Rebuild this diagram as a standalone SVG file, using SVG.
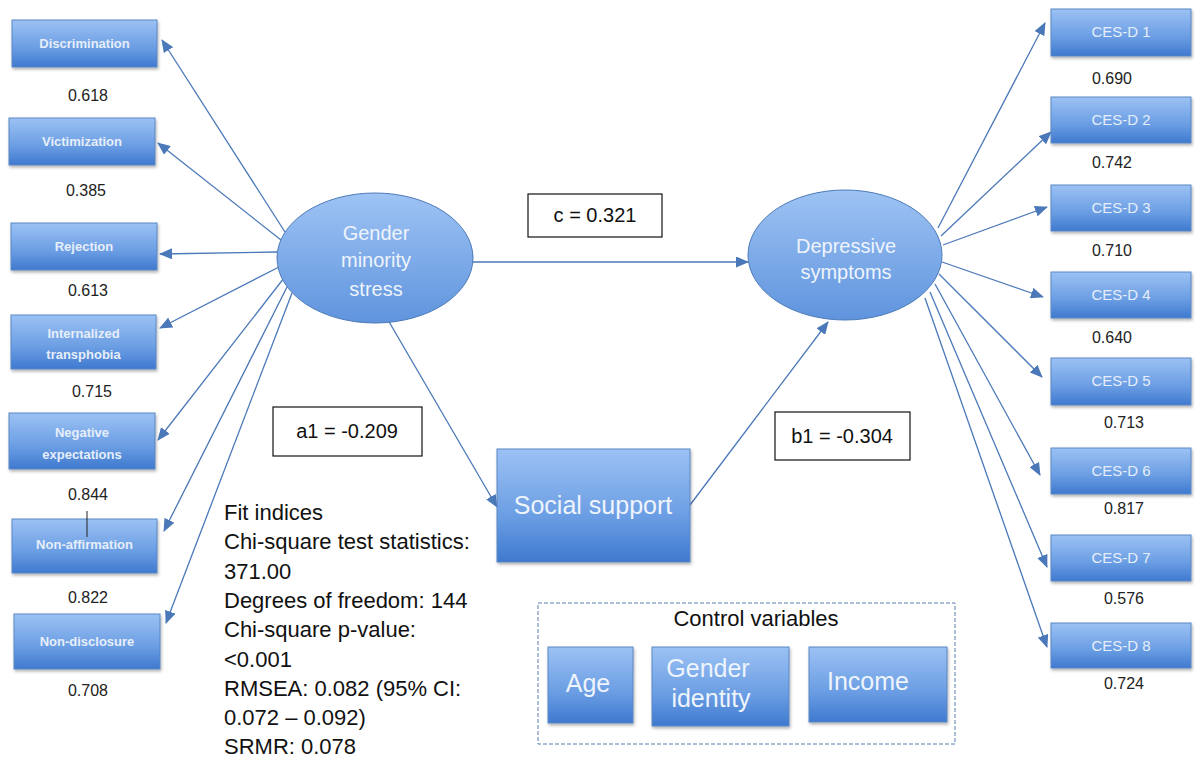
<svg xmlns="http://www.w3.org/2000/svg" width="1195" height="759" viewBox="0 0 1195 759">
<defs>
<linearGradient id="bx" x1="0" y1="0" x2="0" y2="1">
<stop offset="0" stop-color="#9cc2f4"/>
<stop offset="0.6" stop-color="#6a9de3"/>
<stop offset="1" stop-color="#3f79cf"/>
</linearGradient>
<linearGradient id="el" x1="0" y1="0" x2="0" y2="1">
<stop offset="0" stop-color="#9ec3f4"/>
<stop offset="1" stop-color="#5f94dd"/>
</linearGradient>
<filter id="sh" x="-10%" y="-10%" width="130%" height="140%">
<feDropShadow dx="1" dy="2" stdDeviation="1.5" flood-color="#000" flood-opacity="0.3"/>
</filter>
<marker id="ah" markerWidth="13" markerHeight="11" refX="12" refY="5.5" orient="auto" markerUnits="userSpaceOnUse">
<path d="M0,0 L13,5.5 L0,11 z" fill="#4a78b8"/>
</marker>
</defs>
<style>
.box{fill:url(#bx);stroke:#5b87c4;stroke-width:1;filter:url(#sh)}
.ell{fill:url(#el);stroke:#4d7ab8;stroke-width:1}
.sm{font-family:"Liberation Sans",Arial,sans-serif;font-size:13px;font-weight:bold;fill:#e6eefa;text-anchor:middle}
.md{font-family:"Liberation Sans",Arial,sans-serif;font-size:20px;fill:#eef4fc;text-anchor:middle}
.lg{font-family:"Liberation Sans",Arial,sans-serif;font-size:25px;fill:#eef4fc;text-anchor:middle}
.ce{font-family:"Liberation Sans",Arial,sans-serif;font-size:15px;fill:#e6eefa;text-anchor:middle}
.val{font-family:"Liberation Sans",Arial,sans-serif;font-size:16px;fill:#222;text-anchor:middle}
.blk{font-family:"Liberation Sans",Arial,sans-serif;font-size:20px;fill:#111;text-anchor:middle}
.fit{font-family:"Liberation Sans",Arial,sans-serif;font-size:22px;fill:#111}
.con{stroke:#4a78b8;stroke-width:1.3;fill:none;marker-end:url(#ah)}
.lbl{fill:#fff;stroke:#111;stroke-width:1.2}
</style>
<rect width="1195" height="759" fill="#fff"/>

<g id="connectors">
<line class="con" x1="285" y1="232" x2="162" y2="40"/>
<line class="con" x1="281" y1="240" x2="158" y2="143"/>
<line class="con" x1="278" y1="252" x2="160" y2="254"/>
<line class="con" x1="281" y1="266" x2="160" y2="328"/>
<line class="con" x1="284" y1="278" x2="158" y2="440"/>
<line class="con" x1="287" y1="287" x2="164" y2="531"/>
<line class="con" x1="292" y1="293" x2="166" y2="623"/>
<line class="con" x1="472" y1="262" x2="748" y2="262"/>
<line class="con" x1="388" y1="320" x2="497" y2="507"/>
<line class="con" x1="690" y1="505" x2="828" y2="322"/>
<line class="con" x1="938" y1="228" x2="1045" y2="23"/>
<line class="con" x1="941" y1="236" x2="1051" y2="132"/>
<line class="con" x1="943" y1="245" x2="1047" y2="207"/>
<line class="con" x1="942" y1="262" x2="1043" y2="297"/>
<line class="con" x1="939" y1="274" x2="1042" y2="377"/>
<line class="con" x1="935" y1="284" x2="1040" y2="475"/>
<line class="con" x1="930" y1="292" x2="1047" y2="567"/>
<line class="con" x1="925" y1="298" x2="1047" y2="647"/>
</g>

<g id="discrimination"><rect class="box" x="12" y="20" width="145" height="47"/><text class="sm" x="84.5" y="48">Discrimination</text><text class="val" x="88" y="101">0.618</text></g>
<g id="victimization"><rect class="box" x="9" y="118" width="146" height="47"/><text class="sm" x="82" y="146">Victimization</text><text class="val" x="86" y="196">0.385</text></g>
<g id="rejection"><rect class="box" x="11" y="223" width="146" height="47"/><text class="sm" x="84" y="251">Rejection</text><text class="val" x="88" y="296">0.613</text></g>
<g id="internalized"><rect class="box" x="11" y="315" width="145" height="54"/><text class="sm" x="83.5" y="338">Internalized</text><text class="sm" x="83.5" y="359">transphobia</text><text class="val" x="92" y="397">0.715</text></g>
<g id="negative"><rect class="box" x="9" y="413" width="146" height="56"/><text class="sm" x="82" y="437">Negative</text><text class="sm" x="82" y="459">expectations</text><text class="val" x="88" y="500">0.844</text></g>
<g id="nonaffirmation"><rect class="box" x="12" y="519" width="145" height="54"/><line x1="87" y1="511" x2="87" y2="537" stroke="#222" stroke-width="1"/><text class="sm" x="84.5" y="549">Non-affirmation</text><text class="val" x="88" y="603">0.822</text></g>
<g id="nondisclosure"><rect class="box" x="14" y="614" width="146" height="55"/><text class="sm" x="87" y="646">Non-disclosure</text><text class="val" x="88" y="696">0.708</text></g>

<g id="gms"><ellipse class="ell" cx="375" cy="258" rx="98" ry="65"/><text class="md" x="376" y="240">Gender</text><text class="md" x="376" y="267">minority</text><text class="md" x="376" y="296">stress</text></g>
<g id="ds"><ellipse class="ell" cx="845" cy="255" rx="97" ry="65"/><text class="md" x="846" y="253">Depressive</text><text class="md" x="846" y="279">symptoms</text></g>

<g id="label-c"><rect class="lbl" x="528" y="194" width="134" height="43"/><text class="blk" x="595" y="222">c = 0.321</text></g>
<g id="label-a1"><rect class="lbl" x="273" y="407" width="149" height="49"/><text class="blk" x="347" y="438" font-size="21">a1 = -0.209</text></g>
<g id="label-b1"><rect class="lbl" x="775" y="412" width="135" height="48"/><text class="blk" x="842" y="443">b1 = -0.304</text></g>

<g id="social"><rect class="box" x="497" y="449" width="193" height="113"/><text class="lg" x="593" y="514">Social support</text></g>

<g id="fit">
<text class="fit" x="224" y="520">Fit indices</text>
<text class="fit" x="224" y="549">Chi-square test statistics:</text>
<text class="fit" x="224" y="579">371.00</text>
<text class="fit" x="224" y="608">Degrees of freedom: 144</text>
<text class="fit" x="224" y="637">Chi-square p-value:</text>
<text class="fit" x="224" y="667">&lt;0.001</text>
<text class="fit" x="224" y="696">RMSEA: 0.082 (95% CI:</text>
<text class="fit" x="224" y="725">0.072 – 0.092)</text>
<text class="fit" x="224" y="754">SRMR: 0.078</text>
</g>

<g id="control">
<rect x="538" y="603" width="417" height="141" fill="none" stroke="#5b7fb0" stroke-width="1" stroke-dasharray="4,2"/>
<text class="fit" x="756" y="626" text-anchor="middle" font-size="23">Control variables</text>
<g id="age"><rect class="box" x="548" y="647" width="85" height="76"/><text class="lg" x="588" y="692">Age</text></g>
<g id="genderid"><rect class="box" x="652" y="647" width="137" height="79"/><text class="lg" x="708" y="677">Gender</text><text class="lg" x="711" y="707">identity</text></g>
<g id="income"><rect class="box" x="809" y="647" width="138" height="75"/><text class="lg" x="868" y="690">Income</text></g>
</g>

<g id="cesd1"><rect class="box" x="1051" y="9" width="140" height="47"/><text class="ce" x="1121" y="37">CES-D 1</text><text class="val" x="1112" y="84">0.690</text></g>
<g id="cesd2"><rect class="box" x="1051" y="97" width="140" height="46"/><text class="ce" x="1121" y="125">CES-D 2</text><text class="val" x="1112" y="168">0.742</text></g>
<g id="cesd3"><rect class="box" x="1051" y="185" width="140" height="46"/><text class="ce" x="1121" y="213">CES-D 3</text><text class="val" x="1112" y="256">0.710</text></g>
<g id="cesd4"><rect class="box" x="1051" y="272" width="140" height="46"/><text class="ce" x="1121" y="300">CES-D 4</text><text class="val" x="1112" y="343">0.640</text></g>
<g id="cesd5"><rect class="box" x="1051" y="358" width="140" height="47"/><text class="ce" x="1121" y="386">CES-D 5</text><text class="val" x="1124" y="428">0.713</text></g>
<g id="cesd6"><rect class="box" x="1051" y="448" width="140" height="46"/><text class="ce" x="1121" y="476">CES-D 6</text><text class="val" x="1124" y="514">0.817</text></g>
<g id="cesd7"><rect class="box" x="1051" y="535" width="140" height="46"/><text class="ce" x="1121" y="563">CES-D 7</text><text class="val" x="1124" y="604">0.576</text></g>
<g id="cesd8"><rect class="box" x="1051" y="623" width="140" height="45"/><text class="ce" x="1121" y="651">CES-D 8</text><text class="val" x="1124" y="689">0.724</text></g>
</svg>
